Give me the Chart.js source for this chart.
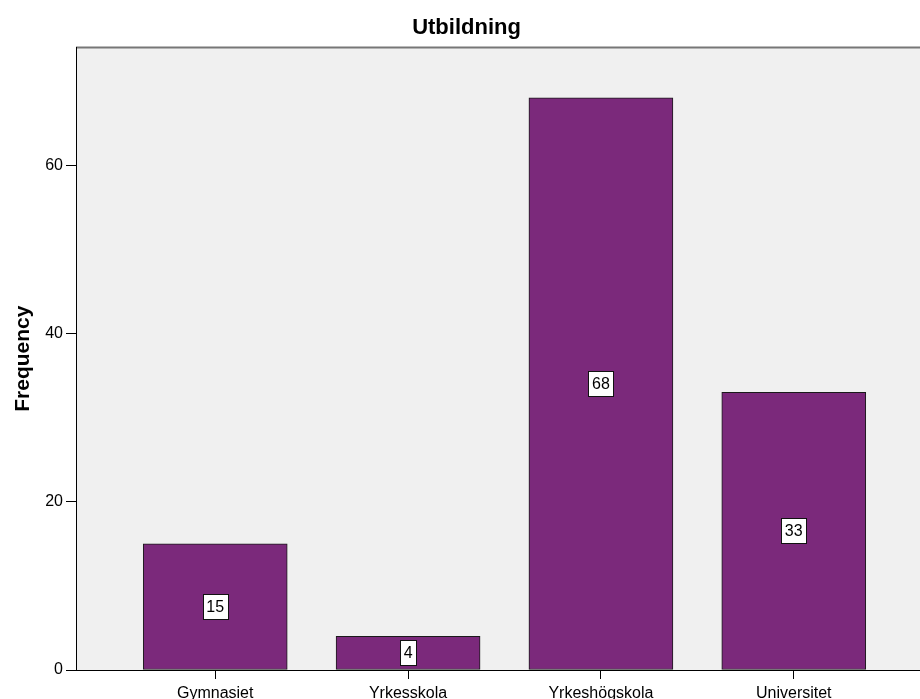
<!DOCTYPE html>
<html>
<head>
<meta charset="utf-8">
<script src="https://cdn.jsdelivr.net/npm/chart.js@4/dist/chart.umd.min.js"></script>
<style>
    html, body { margin: 0; padding: 0; background: #fff; overflow: hidden; }
</style>
</head>
<body>
<canvas id="myChart" width="933" height="699"></canvas>
<script>
const categories = ['Gymnasiet', 'Yrkesskola', 'Yrkeshögskola', 'Universitet'];
const frequency = [15, 4, 68, 33];
const yTicks = [0, 20, 40, 60];

const FONT = "'Liberation Sans', Arial, sans-serif";

// grey plot background + top frame line
const plotBackground = {
    id: 'plotBackground',
    beforeDraw(chart) {
        const { ctx, chartArea: a } = chart;
        ctx.save();
        ctx.fillStyle = '#f0f0f0';
        ctx.fillRect(a.left, a.top, a.right - a.left, a.bottom - a.top);
        ctx.strokeStyle = '#777';
        ctx.lineWidth = 2;
        ctx.beginPath();
        ctx.moveTo(a.left, a.top);
        ctx.lineTo(a.right, a.top);
        ctx.stroke();
        ctx.restore();
    }
};

// value labels in white boxes, centred in each bar
const boxLabels = {
    id: 'boxLabels',
    afterDatasetsDraw(chart) {
        const ctx = chart.ctx;
        const meta = chart.getDatasetMeta(0);
        ctx.save();
        ctx.font = '16px ' + FONT;
        ctx.textAlign = 'center';
        ctx.textBaseline = 'middle';
        meta.data.forEach((bar, i) => {
            const text = String(frequency[i]);
            const cy = (bar.y + bar.base) / 2;
            const w = Math.round(ctx.measureText(text).width + 7);
            const h = 25;
            const x0 = Math.round(bar.x - w / 2) + 0.5;
            const y0 = Math.round(cy - h / 2) + 0.5;
            ctx.fillStyle = '#fff';
            ctx.fillRect(x0, y0, w, h);
            ctx.strokeStyle = '#111';
            ctx.lineWidth = 1;
            ctx.strokeRect(x0, y0, w, h);
            ctx.fillStyle = '#000';
            ctx.fillText(text, bar.x, cy + 1);
        });
        ctx.restore();
    }
};

const ctx = document.getElementById('myChart').getContext('2d');
const chart = new Chart(ctx, {
    type: 'bar',
    data: {
        datasets: [{
            label: 'Frequency',
            data: frequency.map((v, i) => ({ x: i, y: v })),
            backgroundColor: '#7b297b',
            borderColor: '#1a1a1a',
            borderWidth: 1,
            borderSkipped: false,
            barThickness: 144
        }]
    },
    options: {
        responsive: false,
        animation: false,
        layout: { padding: 0 },
        plugins: {
            legend: { display: false },
            tooltip: { enabled: false },
            title: {
                display: true,
                text: 'Utbildning',
                color: '#000',
                font: { family: FONT, size: 22, weight: 'bold', lineHeight: 1.2 },
                padding: { top: 15, bottom: 6 }
            }
        },
        scales: {
            x: {
                type: 'linear',
                min: -0.722,
                max: 3.722,
                offset: false,
                afterBuildTicks: (scale) => {
                    scale.ticks = categories.map((c, i) => ({ value: i }));
                },
                afterFit: (scale) => { scale.height = 29; },
                grid: { offset: false, drawOnChartArea: false, drawTicks: true, tickLength: 9, color: '#000' },
                border: { display: true, color: '#000', width: 1 },
                ticks: {
                    autoSkip: false,
                    maxRotation: 0,
                    padding: 5,
                    color: '#000',
                    font: { family: FONT, size: 16 },
                    callback: (v) => categories[v]
                }
            },
            y: {
                min: 0,
                max: 74,
                afterBuildTicks: (scale) => {
                    scale.ticks = yTicks.map(v => ({ value: v }));
                },
                afterFit: (scale) => { scale.width = 76; },
                grid: { drawOnChartArea: false, drawTicks: true, tickLength: 10, color: '#000' },
                border: { display: true, color: '#000', width: 1 },
                ticks: {
                    padding: 3,
                    color: '#000',
                    font: { family: FONT, size: 16 }
                },
                title: {
                    display: true,
                    text: 'Frequency',
                    color: '#000',
                    font: { family: FONT, size: 21, weight: 'bold', lineHeight: 1.2 },
                    padding: { top: 11, bottom: 0 }
                }
            }
        }
    },
    plugins: [plotBackground, boxLabels]
});
</script>
</body>
</html>
